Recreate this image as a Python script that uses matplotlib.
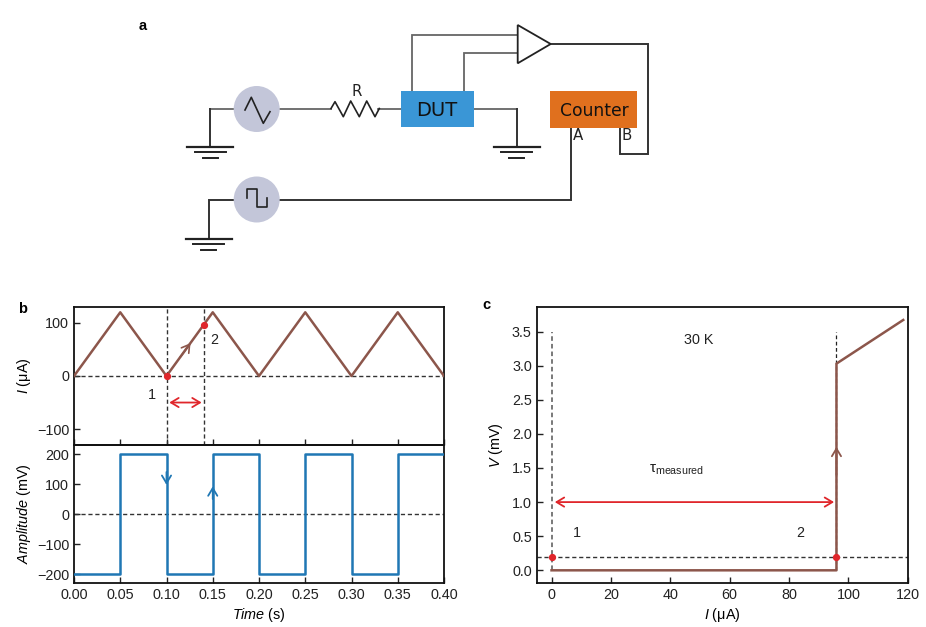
import matplotlib
matplotlib.use('Agg')
import matplotlib.pyplot as plt
from matplotlib.patches import Circle, Rectangle, Polygon

plt.rcParams['font.family'] = ['Liberation Sans', 'DejaVu Sans']
plt.rcParams['font.size'] = 10.4
plt.rcParams['mathtext.fontset'] = 'custom'
plt.rcParams['mathtext.rm'] = 'Liberation Sans'
plt.rcParams['mathtext.it'] = 'Liberation Sans:italic'
plt.rcParams['mathtext.default'] = 'regular'

# panel b data
t_current = [0, 0.05, 0.10, 0.15, 0.20, 0.25, 0.30, 0.35, 0.40]
current = [0, 120, 0, 120, 0, 120, 0, 120, 0]
t_square = [0, 0.05, 0.05, 0.10, 0.10, 0.15, 0.15, 0.20, 0.20, 0.25, 0.25, 0.30, 0.30, 0.35, 0.35, 0.40]
amplitude = [-200, -200, 200, 200, -200, -200, 200, 200, -200, -200, 200, 200, -200, -200, 200, 200]
t_marks = [0.10, 0.14]
i_marks = [0, 96]

# panel c data
i_sweep = [0, 96, 96, 118.5]
v_sweep = [0, 0, 3.03, 3.67]
i_points = [0, 96]
v_points = [0.2, 0.2]

# schematic, in pixels of the image
sources = [(256.7, 109), (256.7, 199.5)]
grounds = [(210.3, 146.7), (208.7, 238.7), (516.7, 146.7)]
gray_wires = [
    ([280, 331], [108.5, 108.5]),
    ([378, 401], [108.5, 108.5]),
    ([234, 210.3], [108.5, 108.5]),
    ([412, 412, 517.7], [91, 34.7, 34.7]),
    ([463.7, 463.7, 517.7], [91, 53.3, 53.3]),
    ([474, 516.7], [108.5, 108.5]),
]
black_wires = [
    ([210.3, 210.3], [108.5, 146.7]),
    ([516.7, 516.7], [108.5, 146.7]),
    ([234, 208.7, 208.7], [200, 200, 238.7]),
    ([280, 571, 571], [200.3, 200.3, 128]),
    ([550.7, 647.7, 647.7, 619.7, 619.7], [44, 44, 154, 154, 128]),
]
resistor_x = [331, 335, 343.3, 350.7, 359.3, 366.7, 375, 379.3]
resistor_y = [108.5, 101.7, 116.7, 101, 116.7, 101, 116.7, 108.5]
tri_icon_x = [245, 251.3, 263.3, 270]
tri_icon_y = [110, 97.3, 123.3, 111.7]
sq_icon_x = [247.3, 247.3, 256.7, 256.7, 267.3, 267.3]
sq_icon_y = [198.3, 188.7, 188.7, 207.3, 207.3, 198.3]
amp_x = [517.7, 517.7, 550.7]
amp_y = [25, 63.3, 44]

brown = '#8c564b'
blue = '#1f77b4'
red = '#e0262b'
W, H = 926, 627

fig = plt.figure(figsize=(9.26, 6.27), dpi=100)


def add_axes_px(left, top, right, bottom):
    return fig.add_axes([left / W, 1 - bottom / H, (right - left) / W, (bottom - top) / H])


def style(ax):
    ax.tick_params(direction='in', length=4.5, width=1, labelsize=10.4, pad=3.5, colors='#222222')
    for s in ax.spines.values():
        s.set_linewidth(1.3)
        s.set_color('#111111')


def arrow(ax, start, end, color, kind='->', lw=1.3):
    ax.annotate('', xy=end, xytext=start,
                arrowprops=dict(arrowstyle=kind + ',head_length=0.5,head_width=0.3', color=color,
                                lw=lw, mutation_scale=11, shrinkA=0, shrinkB=0))


# schematic
sk = fig.add_axes([0, 0, 1, 1])
sk.set_xlim(0, W)
sk.set_ylim(H, 0)
sk.axis('off')
for x, y in gray_wires:
    sk.plot(x, y, color='#666666', lw=1.3, solid_joinstyle='miter')
for x, y in black_wires:
    sk.plot(x, y, color='#333333', lw=1.4, solid_joinstyle='miter')
for cx, cy in sources:
    sk.add_patch(Circle((cx, cy), 23, fc='#c3c6d9', ec='none', zorder=3))
for gx, gy in grounds:
    for half, dy, lw in [(23, 0, 1.6), (15.3, 5.7, 1.4), (7.5, 11.6, 1.4)]:
        sk.plot([gx - half, gx + half], [gy + dy, gy + dy], color='#222222', lw=lw)
sk.plot(resistor_x, resistor_y, color='#222222', lw=1.2)
sk.plot(tri_icon_x, tri_icon_y, color='#222222', lw=1.2, zorder=4)
sk.plot(sq_icon_x, sq_icon_y, color='#222222', lw=1.2, zorder=4)
sk.add_patch(Polygon(list(zip(amp_x, amp_y)), closed=True, fc='white', ec='#222222', lw=1.3, zorder=3))
sk.add_patch(Rectangle((401.3, 90.7), 73, 36.3, fc='#3a96d6', ec='none', zorder=3))
sk.add_patch(Rectangle((549.7, 91), 87.6, 37, fc='#e0701e', ec='none', zorder=3))
dj = ['DejaVu Sans']
sk.text(436.7, 110, 'DUT', family=dj, fontsize=14, ha='center', va='center', color='#111111', zorder=4)
sk.text(594, 110.5, 'Counter', family=dj, fontsize=12.3, ha='center', va='center', color='#111111', zorder=4)
sk.text(356.7, 91, 'R', family=dj, fontsize=10.8, ha='center', va='center', color='#222222')
sk.text(578, 135.5, 'A', family=dj, fontsize=10.8, ha='center', va='center', color='#222222')
sk.text(627, 135.5, 'B', family=dj, fontsize=10.8, ha='center', va='center', color='#222222')
sk.text(143, 26, 'a', fontsize=10.5, fontweight='bold', ha='center', va='center')
sk.text(23, 309, 'b', fontsize=10.5, fontweight='bold', ha='center', va='center')
sk.text(486, 305, 'c', fontsize=10.5, fontweight='bold', ha='center', va='center')

# panel b, current
ax1 = add_axes_px(74, 307, 444, 445)
ax1.patch.set_alpha(0)
ax1.plot(t_current, current, color=brown, lw=1.8, zorder=3)
ax1.plot([0, 0.4], [0, 0], color='#333333', lw=1, ls=(0, (3, 2)))
for t in t_marks:
    ax1.plot([t, t], [-130, 130], color='#333333', lw=1, ls=(0, (3, 2)))
ax1.plot(t_marks, i_marks, 'o', color=red, ms=4.2, zorder=4)
arrow(ax1, (0.115, 36), (0.126, 62), brown, lw=1.2)
arrow(ax1, (0.103, -50), (0.138, -50), red, kind='<->')
ax1.text(0.084, -36, '1', ha='center', va='center', color='#222222')
ax1.text(0.152, 68, '2', ha='center', va='center', color='#222222')
ax1.set_xlim(0, 0.4)
ax1.set_ylim(-130, 130)
ax1.set_yticks([-100, 0, 100])
ax1.set_xticks([0, 0.05, 0.10, 0.15, 0.20, 0.25, 0.30, 0.35, 0.40])
ax1.tick_params(labelbottom=False)
ax1.set_ylabel(r'$\mathit{I}$ (μA)', labelpad=3)
style(ax1)

# panel b, amplitude
ax2 = add_axes_px(74, 445, 444, 583)
ax2.patch.set_alpha(0)
ax2.plot(t_square, amplitude, color=blue, lw=1.8, zorder=3)
ax2.plot([0, 0.4], [0, 0], color='#333333', lw=1, ls=(0, (3, 2)))
arrow(ax2, (0.10, 140), (0.10, 97), blue)
arrow(ax2, (0.15, 50), (0.15, 92), blue)
ax2.set_xlim(0, 0.4)
ax2.set_ylim(-230, 230)
ax2.set_yticks([-200, -100, 0, 100, 200])
ax2.set_xticks([0, 0.05, 0.10, 0.15, 0.20, 0.25, 0.30, 0.35, 0.40])
ax2.set_xticklabels(['0.00', '0.05', '0.10', '0.15', '0.20', '0.25', '0.30', '0.35', '0.40'])
ax2.set_xlabel(r'$\mathit{Time}$ (s)', labelpad=3)
ax2.set_ylabel(r'$\mathit{Amplitude}$ (mV)', labelpad=3)
style(ax2)

# panel c
ax3 = add_axes_px(536.7, 307, 907.7, 583)
ax3.patch.set_alpha(0)
ax3.plot(i_sweep, v_sweep, color=brown, lw=1.8, zorder=3)
ax3.plot([-5, 120], [0.2, 0.2], color='#333333', lw=1, ls=(0, (3, 2)))
ax3.plot([0, 0], [0, 3.5], color='#555555', lw=1.1, ls=(0, (3, 2)))
ax3.plot([96, 96], [0, 3.5], color='#222222', lw=0.9, ls=(0, (3, 2)))
ax3.plot(i_points, v_points, 'o', color=red, ms=4.2, zorder=4)
arrow(ax3, (1.1, 1.0), (95.2, 1.0), red, kind='<->')
arrow(ax3, (96, 1.4), (96, 1.81), brown)
ax3.text(8.7, 0.55, '1', ha='center', va='center', color='#222222')
ax3.text(83.7, 0.55, '2', ha='center', va='center', color='#222222')
ax3.text(49.7, 3.38, '30 K', ha='center', va='center', color='#222222')
ax3.text(42, 1.47, r'$\tau_{measured}$', fontsize=11, ha='center', va='center', color='#222222')
ax3.set_xlim(-5, 120)
ax3.set_ylim(-0.186, 3.86)
ax3.set_xticks([0, 20, 40, 60, 80, 100, 120])
ax3.set_yticks([0, 0.5, 1.0, 1.5, 2.0, 2.5, 3.0, 3.5])
ax3.set_xlabel(r'$\mathit{I}$ (μA)', labelpad=3)
ax3.set_ylabel(r'$\mathit{V}$ (mV)', labelpad=5)
style(ax3)

fig.savefig('out.png', dpi=100)
